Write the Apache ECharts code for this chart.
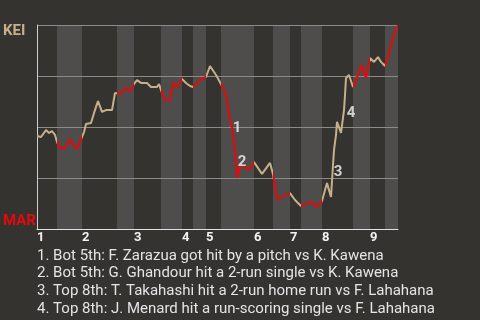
<!DOCTYPE html>
<html><head><meta charset="utf-8">
<script src="https://cdn.jsdelivr.net/npm/echarts@6/dist/echarts.min.js"></script>
<style>html,body{margin:0;padding:0;background:#353330;}#c{width:480px;height:320px;}</style>
</head><body><div id="c"></div>
<script>
// Half-inning boundaries along the game timeline (x units)
const halfBounds = [0, 20, 45, 80, 97, 124, 145, 156, 169, 184, 217, 236, 253, 264, 285, 316, 333, 348, 361];
const inningLabels = ['1', '2', '3', '4', '5', '6', '7', '8', '9'];
// Win probability for KEI (percent) over the game timeline
const winX = [0,4,9,12,15,18,20, 23,28,33,36,40,45, 47,49,54,57,61,65,69,75,78,80, 83,88,93,97,
  100,104,110,114,120,122,124, 128,133,136,140,143,145, 149,153,156, 161,164,169, 173,179,184,
  188,190,192,195,197,199,200,203,207,212,217, 225,233,236, 240,244,248,253, 258,264,
  269,274,280,285, 288,290,294,296,297,299,300,302,304,305,307,308,309,312,316,
  321,325,329,333, 337,341,344,348, 352,357,361];
const winP = [45.6,45.1,48.5,47.1,48.0,46.1,42.6, 39.7,39.7,44.1,41.7,39.2,45.1, 47.5,51.5,52.0,56.9,62.7,57.4,58.3,58.3,66.7,67.2,
  66.2,69.1,67.6,71.1, 73.0,71.6,71.6,69.6,69.6,71.1,68.1, 63.2,63.2,71.6,69.6,72.1,73.5, 71.6,70.1,69.6, 72.1,73.5,74.5, 79.9,75.5,71.1,
  67.2,63.2,55.9,50.0,42.2,33.8,25.0,30.9,30.9,28.9,32.8, 27.0,32.4,27.0, 14.7,15.2,16.7,17.6, 14.2,11.3,
  12.3,13.2,10.8,13.7, 19.1,22.5,15.7,31.4,38.7,46.1,52.5,53.4,47.1,47.1,58.3,65.7,74.0,75.5,69.6,
  75.5,80.4,74.0,83.8, 81.9,84.3,81.9,79.9, 86.3,95.1,100];
// Key-event annotations
const annX = [200, 205, 301, 314];
const annY = [49.5, 32.8, 27.9, 56.9];
const annText = ['1', '2', '3', '4'];
const notes = [
  '1. Bot 5th: F. Zarazua got hit by a pitch vs K. Kawena',
  '2. Bot 5th: G. Ghandour hit a 2-run single vs K. Kawena',
  '3. Top 8th: T. Takahashi hit a 2-run home run vs F. Lahahana',
  '4. Top 8th: J. Menard hit a run-scoring single vs F. Lahahana'
];
const teamTop = 'KEI', teamBottom = 'MAR';

const TAN = '#c6b088', RED = '#e8080c', BAND = '#4e4d4b', BG = '#353330';
const innStarts = halfBounds.filter((_, i) => i % 2 === 0 && i < halfBounds.length - 1);
const pieces = [];
const bands = [];
for (let i = 0; i < halfBounds.length - 1; i++) {
  const p = { gte: halfBounds[i], color: i % 2 ? RED : TAN };
  if (i < halfBounds.length - 2) p.lt = halfBounds[i + 1]; else p.lte = halfBounds[i + 1];
  pieces.push(p);
  if (i % 2) bands.push([{ xAxis: halfBounds[i] }, { xAxis: halfBounds[i + 1] }]);
}
const chart = echarts.init(document.getElementById('c'));
chart.setOption({
  backgroundColor: BG,
  animation: false,
  grid: { left: 37, top: 25, width: 361, height: 204 },
  xAxis: {
    type: 'value', min: halfBounds[0], max: halfBounds[halfBounds.length - 1],
    axisLine: { show: true, lineStyle: { color: '#e0e0e0', width: 1 } },
    axisTick: { show: false },
    splitLine: { show: false },
    axisLabel: {
      customValues: innStarts, align: 'left', margin: 2,
      color: '#f2f2f2', fontSize: 13, fontWeight: 'bold', fontFamily: 'Roboto',
      formatter: v => inningLabels[innStarts.indexOf(v)]
    }
  },
  yAxis: {
    type: 'value', min: 0, max: 100, interval: 25,
    axisLine: { show: true, lineStyle: { color: '#d0d0d0', width: 1 } },
    axisTick: { show: false }, axisLabel: { show: false },
    splitLine: { show: true, lineStyle: { color: '#8c8b89', width: 1 } }
  },
  visualMap: { show: false, type: 'piecewise', dimension: 0, seriesIndex: 0, pieces: pieces },
  series: [
    {
      type: 'line', data: winX.map((x, i) => [x, winP[i]]), showSymbol: false,
      lineStyle: { width: 2 }, z: 3,
      markArea: { silent: true, z: -1, itemStyle: { color: BAND }, data: bands }
    },
    {
      type: 'scatter', symbolSize: 0, z: 5, silent: true,
      data: annX.map((x, i) => ({ value: [x, annY[i]], label: { formatter: annText[i] } })),
      label: { show: true, position: 'inside', color: '#f6f6f6', fontSize: 15, fontWeight: 'bold', fontFamily: 'Roboto' }
    }
  ],
  graphic: [
    { type: 'text', left: 3, top: 24, style: { text: teamTop, fill: TAN, font: 'bold 15px Roboto' } },
    { type: 'text', left: 3, top: 214, style: { text: teamBottom, fill: RED, font: 'bold 15px Roboto' } },
    { type: 'text', left: 37, top: 247, style: { text: notes.join('\n'), fill: '#e4e4e4', font: '15px Roboto', lineHeight: 17.7 } }
  ]
});
</script></body></html>
